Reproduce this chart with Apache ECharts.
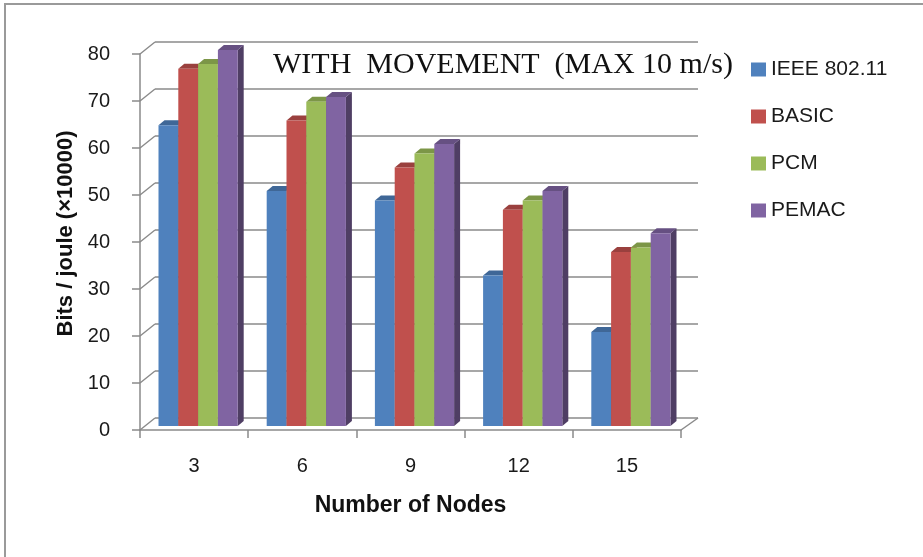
<!DOCTYPE html>
<html>
<head>
<meta charset="utf-8">
<title>Bits per joule with movement</title>
<script src="https://cdn.jsdelivr.net/npm/echarts@6/dist/echarts.min.js"></script>
<style>
  html, body { margin: 0; padding: 0; background: #fff; }
  #chart { width: 923px; height: 557px; }
</style>
</head>
<body>
<div id="chart"></div>
<script>
// data
const nodeCounts = ["3", "6", "9", "12", "15"];
const yTicks = [0, 10, 20, 30, 40, 50, 60, 70, 80];
const ieee80211 = [64, 50, 48, 32, 20];
const basic = [76, 65, 55, 46, 37];
const pcm = [77, 69, 58, 48, 38];
const pemac = [80, 70, 60, 50, 41];

const seriesDefs = [
  { name: "IEEE 802.11", values: ieee80211, color: "#4F81BD" },
  { name: "BASIC", values: basic, color: "#C0504D" },
  { name: "PCM", values: pcm, color: "#9BBB59" },
  { name: "PEMAC", values: pemac, color: "#8064A2" },
];

const gridColor = "#8a8a8a";
const depthX = 15; // back wall offset
const depthY = -12;

function shade(hex, k) {
  const n = parseInt(hex.slice(1), 16);
  const r = Math.round(((n >> 16) & 255) * k);
  const g = Math.round(((n >> 8) & 255) * k);
  const b = Math.round((n & 255) * k);
  return `rgb(${r},${g},${b})`;
}

// fake 3D bar: front face, darker side and top
function makeBarRenderer(idx, color) {
  return function (params, api) {
    const cat = api.value(0);
    const v = api.value(1);
    const base = api.coord([cat, 0]);
    const top = api.coord([cat, v]);
    const band = api.size([1, 0])[0];
    const bw = band * 0.183;
    const dx = 6, dy = -5;
    const x0 = base[0] - 2 * bw + idx * bw + 4;
    const y0 = base[1] - 4;
    const y1 = top[1] - 4;
    return {
      type: "group",
      children: [
        {
          type: "polygon",
          shape: { points: [[x0 + bw, y1], [x0 + bw + dx, y1 + dy], [x0 + bw + dx, y0 + dy], [x0 + bw, y0]] },
          style: { fill: shade(color, 0.62) },
        },
        {
          type: "polygon",
          shape: { points: [[x0, y1], [x0 + dx, y1 + dy], [x0 + bw + dx, y1 + dy], [x0 + bw, y1]] },
          style: { fill: shade(color, 0.8) },
        },
        {
          type: "rect",
          shape: { x: x0, y: y1, width: bw, height: y0 - y1 },
          style: { fill: color },
        },
      ],
    };
  };
}

const chart = echarts.init(document.getElementById("chart"));

const option = {
  backgroundColor: "#fff",
  animation: false,
  textStyle: { fontFamily: "Liberation Sans" },
  title: {
    text: "WITH  MOVEMENT  (MAX 10 m/s)",
    left: 268,
    top: 45,
    textStyle: {
      fontFamily: "Liberation Serif",
      fontSize: 30,
      fontWeight: "normal",
      color: "#111",
    },
  },
  legend: {
    data: seriesDefs.map(s => s.name),
    orient: "vertical",
    left: 746,
    top: 54,
    icon: "rect",
    itemWidth: 15,
    itemHeight: 14,
    itemGap: 26,
    textStyle: { fontSize: 21, color: "#1a1a1a" },
  },
  graphic: [
    {
      type: "rect",
      shape: { x: 5, y: 4, width: 1000, height: 1000 },
      style: { fill: "none", stroke: "#9a9a9a", lineWidth: 2 },
      silent: true,
    },
  ],
  grid: [
    { left: 140, top: 54, right: 242, bottom: 127 },
    { left: 155, top: 42, right: 225, bottom: 139 },
  ],
  xAxis: [
    {
      type: "category",
      gridIndex: 0,
      data: nodeCounts,
      axisLine: { lineStyle: { color: gridColor, width: 1.5 } },
      axisTick: { show: true, length: 8, lineStyle: { color: gridColor, width: 1.5 } },
      axisLabel: { fontSize: 20, color: "#1a1a1a", margin: 26 },
      name: "Number of Nodes",
      nameLocation: "middle",
      nameGap: 64,
      nameTextStyle: { fontSize: 23, fontWeight: "bold", color: "#111" },
    },
    {
      type: "category",
      gridIndex: 1,
      data: nodeCounts,
      show: false,
    },
  ],
  yAxis: [
    {
      type: "value",
      gridIndex: 0,
      min: 0,
      max: 80,
      interval: 10,
      axisLine: { show: true, lineStyle: { color: gridColor, width: 1.5 } },
      axisTick: { show: true, length: 8, lineStyle: { color: gridColor, width: 1.5 } },
      axisLabel: { fontSize: 20, color: "#1a1a1a", margin: 30 },
      splitLine: { show: false },
      name: "Bits / joule (\u00d710000)",
      nameLocation: "middle",
      nameGap: 62,
      nameTextStyle: { fontSize: 22, fontWeight: "bold", color: "#111", padding: [0, 0, 0, 17] },
    },
    {
      type: "value",
      gridIndex: 1,
      min: 0,
      max: 80,
      interval: 10,
      axisLine: { show: false },
      axisTick: { show: false },
      axisLabel: { show: false },
      splitLine: { show: true, lineStyle: { color: gridColor, width: 1.5 } },
    },
  ],
  series: [
    // diagonal wall edges joining front ticks to back gridlines
    {
      type: "custom",
      name: "walls",
      xAxisIndex: 0,
      yAxisIndex: 0,
      silent: true,
      z: 1,
      data: yTicks.map(v => [0, v]),
      renderItem: (params, api) => {
        const cs = params.coordSys;
        const y = api.coord([0, api.value(1)])[1];
        const style = { stroke: gridColor, lineWidth: 1.5 };
        const children = [
          { type: "line", shape: { x1: cs.x, y1: y, x2: cs.x + depthX, y2: y + depthY }, style },
        ];
        if (api.value(1) === 0) {
          children.push({
            type: "line",
            shape: { x1: cs.x + cs.width, y1: y, x2: cs.x + cs.width + depthX + 2, y2: y + depthY },
            style,
          });
        }
        return { type: "group", children };
      },
    },
    ...seriesDefs.map((s, i) => ({
      type: "custom",
      name: s.name,
      xAxisIndex: 0,
      yAxisIndex: 0,
      itemStyle: { color: s.color },
      z: 3 + i,
      data: s.values.map((v, c) => [c, v]),
      renderItem: makeBarRenderer(i, s.color),
    })),
  ],
};

chart.setOption(option);
window.addEventListener("resize", () => chart.resize());
</script>
</body>
</html>
